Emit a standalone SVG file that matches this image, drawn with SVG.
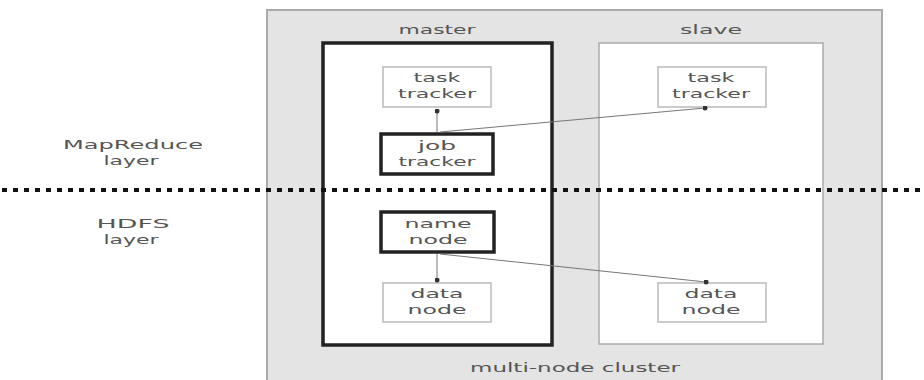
<svg xmlns="http://www.w3.org/2000/svg" width="924" height="380" viewBox="0 0 924 380">
<defs>
<style>
text{font-family:"DejaVu Sans","Liberation Sans",sans-serif;font-size:13px;fill:#555;text-anchor:middle}
.box{fill:#fff;stroke:#bbb;stroke-width:1.5}
.thick{fill:#fff;stroke:#222;stroke-width:3.5}
.con{stroke:#777;stroke-width:1;fill:none;marker-end:url(#dot)}
</style>
<marker id="dot" viewBox="0 0 6 6" refX="3" refY="3" markerWidth="5" markerHeight="5" markerUnits="userSpaceOnUse"><circle cx="3" cy="3" r="3" fill="#333"/></marker>
</defs>
<rect width="924" height="380" fill="#fff"/>
<g id="cluster">
<rect x="267" y="10" width="615" height="375" fill="#e4e4e4" stroke="#aaa" stroke-width="2"/>
<text x="575" y="372" textLength="210" lengthAdjust="spacingAndGlyphs">multi-node cluster</text>
</g>
<g id="master">
<rect x="323" y="43" width="229" height="302" fill="#fff" stroke="#222" stroke-width="3.5"/>
<text x="437" y="34" textLength="77" lengthAdjust="spacingAndGlyphs">master</text>
</g>
<g id="slave">
<rect x="599" y="43" width="224" height="301" fill="#fff" stroke="#aaa" stroke-width="1.5"/>
<text x="711" y="34" textLength="62" lengthAdjust="spacingAndGlyphs">slave</text>
</g>
<g id="layers">
<text x="133" y="149" textLength="140" lengthAdjust="spacingAndGlyphs">MapReduce</text>
<text x="131" y="165" textLength="55" lengthAdjust="spacingAndGlyphs">layer</text>
<text x="133" y="228" textLength="73" lengthAdjust="spacingAndGlyphs">HDFS</text>
<text x="131" y="244" textLength="55" lengthAdjust="spacingAndGlyphs">layer</text>
</g>
<g id="m-task"><rect class="box" x="383" y="67" width="108" height="40"/><text x="437" y="82" textLength="47" lengthAdjust="spacingAndGlyphs">task</text><text x="437" y="98" textLength="78" lengthAdjust="spacingAndGlyphs">tracker</text></g>
<g id="m-job"><rect class="thick" x="381" y="134" width="112" height="40"/><text x="437" y="150" textLength="38" lengthAdjust="spacingAndGlyphs">job</text><text x="437" y="166" textLength="77" lengthAdjust="spacingAndGlyphs">tracker</text></g>
<g id="m-name"><rect class="thick" x="381" y="212" width="113" height="40"/><text x="438" y="228" textLength="67" lengthAdjust="spacingAndGlyphs">name</text><text x="438" y="244" textLength="59" lengthAdjust="spacingAndGlyphs">node</text></g>
<g id="m-data"><rect class="box" x="383" y="283" width="108" height="39"/><text x="437" y="298" textLength="53" lengthAdjust="spacingAndGlyphs">data</text><text x="437" y="314" textLength="59" lengthAdjust="spacingAndGlyphs">node</text></g>
<g id="s-task"><rect class="box" x="658" y="67" width="108" height="40"/><text x="711" y="82" textLength="47" lengthAdjust="spacingAndGlyphs">task</text><text x="711" y="98" textLength="78" lengthAdjust="spacingAndGlyphs">tracker</text></g>
<g id="s-data"><rect class="box" x="658" y="283" width="108" height="39"/><text x="711" y="298" textLength="53" lengthAdjust="spacingAndGlyphs">data</text><text x="711" y="314" textLength="59" lengthAdjust="spacingAndGlyphs">node</text></g>
<g id="connectors">
<line class="con" x1="437" y1="132" x2="437" y2="111"/>
<line class="con" x1="440" y1="132" x2="705" y2="108"/>
<line class="con" x1="437" y1="254" x2="437" y2="280"/>
<line class="con" x1="440" y1="254" x2="706" y2="282"/>
</g>
<line id="divider" x1="2" y1="190" x2="924" y2="190" stroke="#111" stroke-width="4" stroke-dasharray="5 6"/>
</svg>
